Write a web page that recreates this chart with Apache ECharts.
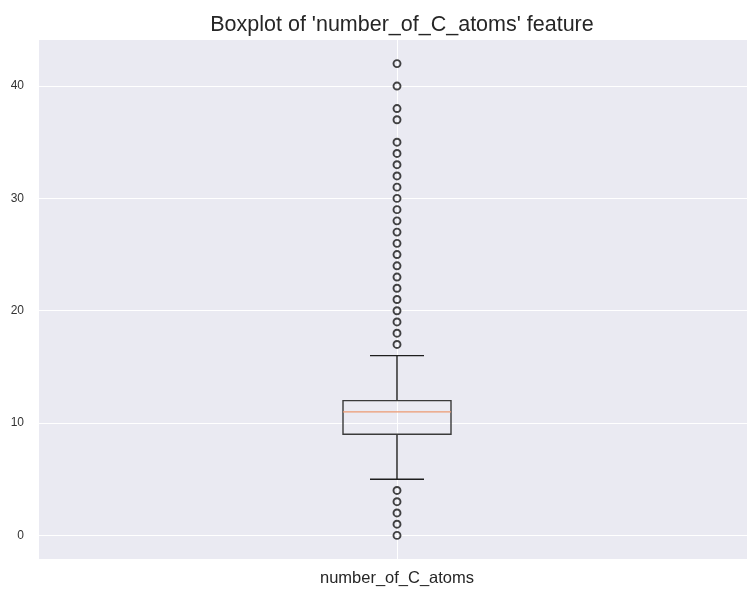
<!DOCTYPE html>
<html>
<head>
<meta charset="utf-8">
<script src="https://cdn.jsdelivr.net/npm/echarts@6/dist/echarts.min.js"></script>
<style>
  html, body { margin: 0; padding: 0; background: #fff; }
  #chart { width: 747px; height: 589px; }
</style>
</head>
<body>
<div id="chart"></div>
<script>
// 数据
const categories = ['number_of_C_atoms']
// [下须, Q1, 中位数, Q3, 上须]
const boxStats = [[5, 9, 11, 12, 16]]
const outliers = [0, 1, 2, 3, 4, 17, 18, 19, 20, 21, 22, 23, 24, 25, 26, 27, 28, 29, 30, 31, 32, 33, 34, 35, 37, 38, 40, 42]
const yTicks = [0, 10, 20, 30, 40]
const xTicks = [1]

const font = "'Liberation Sans', Arial, sans-serif"
const boxPx = 108
const capPx = 54

const myChart = echarts.init(document.getElementById('chart'))

// 箱体、中位线、须线
function renderBox (params, api) {
  const x = api.value(0)
  const lo = api.coord([x, api.value(1)])
  const q1 = api.coord([x, api.value(2)])
  const med = api.coord([x, api.value(3)])
  const q3 = api.coord([x, api.value(4)])
  const hi = api.coord([x, api.value(5)])
  const cx = q1[0]
  const hb = boxPx / 2
  const hc = capPx / 2
  const line = (x1, y1, x2, y2, stroke) => ({
    type: 'line',
    shape: { x1: x1, y1: y1, x2: x2, y2: y2 },
    style: { stroke: stroke, lineWidth: 1.4 }
  })
  return {
    type: 'group',
    children: [
      line(cx, q1[1], cx, lo[1], '#1e1e1e'),
      line(cx, q3[1], cx, hi[1], '#1e1e1e'),
      line(cx - hc, lo[1], cx + hc, lo[1], '#1e1e1e'),
      line(cx - hc, hi[1], cx + hc, hi[1], '#1e1e1e'),
      {
        type: 'rect',
        shape: { x: cx - hb, y: q3[1], width: boxPx, height: q1[1] - q3[1] },
        style: { fill: 'none', stroke: '#3a3a3a', lineWidth: 1.4 }
      },
      line(cx - hb, med[1], cx + hb, med[1], '#ec9a72')
    ]
  }
}

const option = {
  backgroundColor: '#fff',
  animation: false,
  title: {
    text: "Boxplot of 'number_of_C_atoms' feature",
    left: 397,
    top: 9,
    textAlign: 'center',
    textStyle: { fontFamily: font, fontSize: 21.5, fontWeight: 'normal', color: '#262626' }
  },
  grid: {
    left: 39,
    top: 40,
    right: 0,
    bottom: 30,
    show: true,
    backgroundColor: '#EAEAF2',
    borderWidth: 0
  },
  xAxis: {
    type: 'value',
    // 右侧被裁切：中心 1 落在 x≈397
    min: 0,
    max: 708 / 358,
    axisLine: { show: false },
    axisTick: { show: false, customValues: xTicks },
    splitLine: { show: true, lineStyle: { color: '#fff', width: 1 } },
    axisLabel: {
      customValues: xTicks,
      margin: 11,
      fontFamily: font,
      fontSize: 16.5,
      color: '#262626',
      formatter: () => categories[0]
    }
  },
  yAxis: {
    type: 'value',
    min: -2.1,
    max: 44.1,
    axisLine: { show: false },
    axisTick: { show: false, customValues: yTicks },
    splitLine: { show: true, lineStyle: { color: '#fff', width: 1 } },
    axisLabel: {
      customValues: yTicks,
      margin: 15,
      fontFamily: font,
      fontSize: 12,
      color: '#333'
    }
  },
  series: [
    {
      type: 'custom',
      renderItem: renderBox,
      data: boxStats.map((s, i) => [i + 1].concat(s)),
      z: 3
    },
    {
      type: 'scatter',
      symbol: 'circle',
      symbolSize: 7,
      data: outliers.map(v => [1, v]),
      itemStyle: { color: 'rgba(0,0,0,0)', borderColor: '#151515', borderWidth: 1.9 },
      z: 4
    }
  ]
}

myChart.setOption(option)
</script>
</body>
</html>
